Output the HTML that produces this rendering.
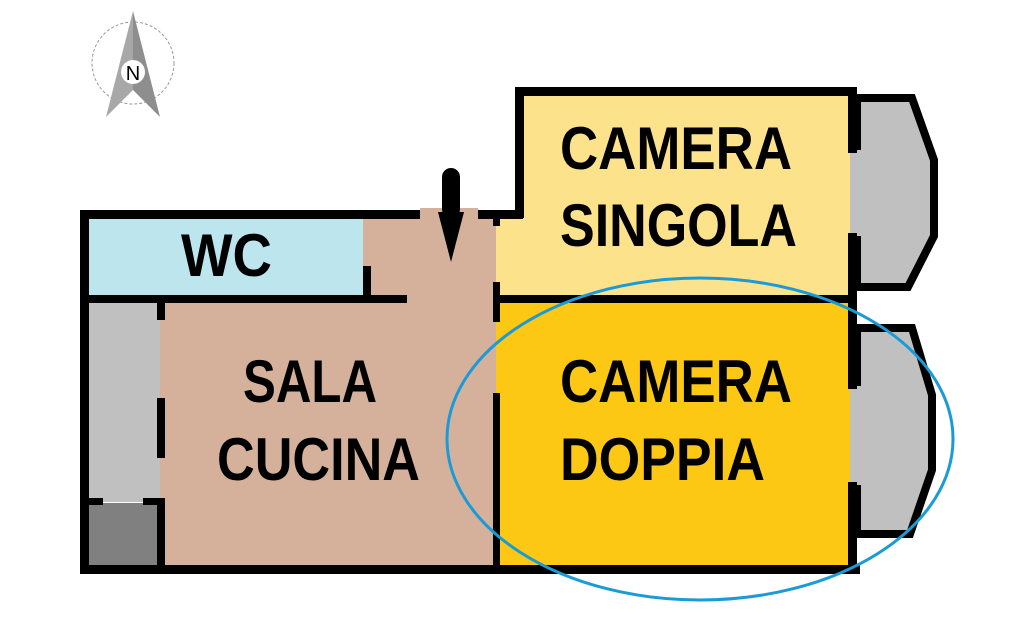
<!DOCTYPE html>
<html><head><meta charset="utf-8"><style>html,body{margin:0;padding:0;background:#fff}svg{display:block}</style></head><body>
<svg width="1015" height="634" viewBox="0 0 1015 634" xmlns="http://www.w3.org/2000/svg">
<ellipse cx="133" cy="63" rx="41" ry="41" fill="none" stroke="#999" stroke-width="1" stroke-dasharray="3,2"/>
<polygon points="133,11 106,117 133,90" fill="#a8a8a8"/>
<polygon points="133,11 160,117 133,90" fill="#8e8e8e"/>
<circle cx="133" cy="72" r="12" fill="#fff"/>
<text x="133" y="80" font-family="Liberation Sans, sans-serif" font-size="20" text-anchor="middle" fill="#000">N</text>

<rect x="88" y="218" width="277" height="78" fill="#bde5ee"/>
<rect x="157" y="300" width="340" height="266" fill="#d5b19c"/>
<rect x="363" y="218" width="134" height="85" fill="#d5b19c"/>
<rect x="420" y="208" width="58" height="12" fill="#d5b19c"/>
<rect x="88" y="302" width="72" height="200" fill="#c0c0c0"/>
<rect x="88" y="503" width="72" height="63" fill="#808080"/>
<rect x="522" y="95" width="330" height="202" fill="#fde28c"/>
<rect x="496" y="217" width="356" height="80" fill="#fde28c"/>
<rect x="496" y="302" width="356" height="264" fill="#fdc813"/>
<polygon points="857,98 912,98 934,160 934,236 908,287 857,287" fill="#c0c0c0" stroke="#000" stroke-width="8" stroke-linejoin="miter"/>
<polygon points="857,328 912,328 932,395 932,470 910,534 857,534" fill="#c0c0c0" stroke="#000" stroke-width="8"/>
<rect x="850" y="150" width="13" height="86" fill="#c0c0c0"/>
<rect x="850" y="386" width="13" height="99" fill="#c0c0c0"/>

<g fill="#000">
<rect x="80" y="210" width="340" height="9"/>
<rect x="478" y="210" width="45" height="9"/>
<rect x="80" y="210" width="9" height="364"/>
<rect x="80" y="565" width="780" height="9"/>
<rect x="515" y="87" width="9" height="131"/>
<rect x="515" y="87" width="342" height="9"/>
<rect x="80" y="295" width="327" height="8"/>
<rect x="363" y="266" width="8" height="36"/>
<rect x="157" y="302" width="8" height="18"/>
<rect x="157" y="398" width="8" height="60"/>
<rect x="157" y="498" width="8" height="76"/>
<rect x="80" y="498" width="23" height="7"/>
<rect x="143" y="498" width="22" height="7"/>
<rect x="493" y="218" width="7" height="8"/>
<rect x="493" y="282" width="7" height="40"/>
<rect x="493" y="393" width="7" height="180"/>
<rect x="497" y="295" width="360" height="8"/>
<rect x="848" y="87" width="9" height="66"/>
<rect x="848" y="233" width="9" height="70"/>
<rect x="848" y="303" width="9" height="86"/>
<rect x="848" y="482" width="9" height="92"/>
<rect x="442" y="168" width="18" height="50" rx="9"/>
<polygon points="438,212 464,212 451,262"/>
</g>

<g font-family="Liberation Sans, sans-serif" font-weight="bold" fill="#000" font-size="60">
<text x="181" y="276" textLength="91" lengthAdjust="spacingAndGlyphs">WC</text>
<text x="243" y="402" textLength="134" lengthAdjust="spacingAndGlyphs">SALA</text>
<text x="217" y="480" textLength="203" lengthAdjust="spacingAndGlyphs">CUCINA</text>
<text x="560" y="169" textLength="232" lengthAdjust="spacingAndGlyphs">CAMERA</text>
<text x="560" y="246" textLength="237" lengthAdjust="spacingAndGlyphs">SINGOLA</text>
<text x="560" y="402" textLength="232" lengthAdjust="spacingAndGlyphs">CAMERA</text>
<text x="560" y="480" textLength="205" lengthAdjust="spacingAndGlyphs">DOPPIA</text>
</g>

<ellipse cx="700" cy="439" rx="253" ry="161" fill="none" stroke="#1a9bd7" stroke-width="3"/>
</svg>
</body></html>
